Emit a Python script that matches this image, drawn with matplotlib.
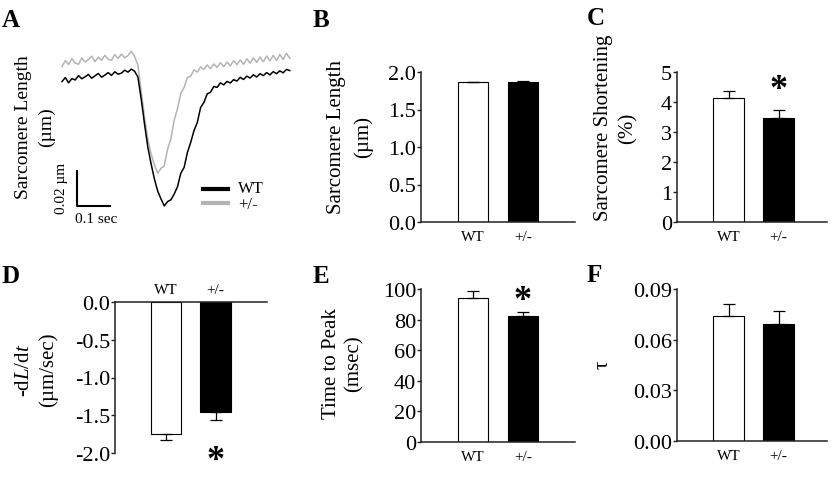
import matplotlib
matplotlib.use("Agg")
import matplotlib.pyplot as plt
from matplotlib.lines import Line2D

plt.rcParams['font.family'] = ['Liberation Serif', 'DejaVu Sans']
plt.rcParams['mathtext.fontset'] = 'custom'
plt.rcParams['mathtext.rm'] = 'Liberation Serif'
plt.rcParams['mathtext.it'] = 'Liberation Serif:italic'
plt.rcParams['axes.unicode_minus'] = False

W, H = 832, 485

# --- panel A: representative sarcomere length traces (change in nm vs time in ms)
time_ms = [0, 10, 20, 30, 40, 50, 60, 70, 80, 90,
           100, 110, 120, 130, 140, 150, 160, 170, 180, 190,
           200, 210, 220, 230, 240, 250, 260, 270, 280, 290,
           300, 310, 320, 330, 340, 350, 360, 370, 380, 390,
           400, 410, 420, 430, 440, 450, 460, 470, 480, 490,
           500, 510, 520, 530, 540, 550, 560, 570, 580, 590,
           600, 610, 620, 630, 640, 650, 660, 670, 680, 690]
wt_trace = [-1.5, 0.8, -2.2, 0.2, -0.6, 1.9, 0.1, 1.2, 2.6, 0.4,
            1.8, 3.1, 1.0, 2.2, 3.6, 2.0, 4.1, 2.7, 3.3, 5.0,
            3.9, 5.6, 4.4, 1.1, -11.4, -25.7, -38.8, -48.5, -57.1, -64.0,
            -68.5, -72.5, -70.0, -69.0, -65.7, -61.5, -53.8, -50.5, -42.0, -36.2,
            -29.5, -24.8, -16.3, -13.4, -8.5, -7.6, -4.3, -4.8, -2.2, -3.4,
            -1.4, -2.3, -0.4, -1.2, 0.9, -0.3, 1.6, 0.5, 2.4, 1.1,
            3.0, 1.9, 3.6, 2.3, 4.2, 3.0, 4.6, 3.5, 5.4, 4.8]
het_trace = [7.0, 10.5, 8.2, 11.6, 9.0, 8.4, 12.0, 9.6, 11.1, 13.0,
             9.9, 12.4, 10.6, 13.5, 11.2, 10.8, 13.9, 11.7, 14.2, 12.1,
             13.3, 15.8, 12.8, 8.0, -6.9, -21.7, -34.3, -42.8, -49.1, -53.8,
             -51.0, -49.6, -40.0, -34.2, -23.5, -16.9, -8.2, -4.8, 0.9, 1.5,
             5.2, 3.9, 6.9, 5.4, 8.0, 5.9, 8.5, 6.6, 9.3, 7.0,
             9.6, 7.5, 10.4, 8.1, 10.9, 8.4, 11.5, 9.0, 12.0, 9.4,
             12.4, 9.8, 13.1, 10.3, 13.4, 10.6, 14.0, 11.1, 14.6, 11.8]

# --- panels B-F: mean and SEM
groups = ['WT', '+/-']
sl_mean = [1.863, 1.871]
sl_err = [0.006, 0.006]
short_mean = [4.13, 3.47]
short_err = [0.24, 0.26]
dldt_mean = [-1.75, -1.46]
dldt_err = [0.08, 0.10]
ttp_mean = [94.3, 82.2]
ttp_err = [4.2, 3.0]
tau_mean = [0.0738, 0.0695]
tau_err = [0.0073, 0.0077]


def box(left, top, right, bottom):
    return [left / W, 1 - bottom / H, (right - left) / W, (bottom - top) / H]


def ftext(x, y, s, **kw):
    fig.text(x / W, 1 - y / H, s, **kw)


def bar_panel(ax, means, errs, ylim, yticks, fmt, xlim):
    x = [1, 2]
    ax.bar(x, means, width=0.61, color=['white', 'black'], edgecolor='black',
           linewidth=0.8, zorder=2)
    zeros = [0, 0]
    yerr = [zeros, errs] if ylim[1] > 0 else [errs, zeros]
    ax.errorbar(x, means, yerr=yerr, fmt='none', ecolor='black', elinewidth=0.9,
                capsize=4, capthick=0.9, zorder=3)
    ax.set_xlim(*xlim)
    ax.set_ylim(*ylim)
    ax.set_yticks(yticks)
    ax.set_yticklabels([fmt % v for v in yticks])
    ax.set_xticks(x)
    ax.set_xticklabels(groups)
    ax.spines['right'].set_visible(False)
    for s in ['left', 'bottom', 'top']:
        ax.spines[s].set_linewidth(1.1)
        ax.spines[s].set_color('#222222')
    ax.tick_params(axis='y', length=3, width=1.0, labelsize=16, pad=0.5, color='#222222')
    ax.tick_params(axis='x', length=0, labelsize=11, pad=6)
    ax.set_facecolor('none')


fig = plt.figure(figsize=(W / 100, H / 100), dpi=100)

# A
ax_a = fig.add_axes(box(55, 40, 295, 225))
ax_a.plot(time_ms, het_trace, color='#b4b4b4', lw=1.1)
ax_a.plot(time_ms, wt_trace, color='black', lw=1.1)
ax_a.plot([45.5, 45.5, 145.5], [-52.5, -72.5, -72.5], color='black', lw=1.5)
ax_a.set_xlim(-21.2, 706)
ax_a.set_ylim(-82.8, 22.8)
ax_a.axis('off')
fig.add_artist(Line2D([203 / W, 228 / W], [1 - 190 / H, 1 - 190 / H], color='black', lw=3))
fig.add_artist(Line2D([203 / W, 228 / W], [1 - 204 / H, 1 - 204 / H], color='#b4b4b4', lw=3))
ftext(238, 189, 'WT', fontsize=12, va='center')
ftext(238, 205, '+/-', fontsize=12, va='center')
ftext(61, 188, '0.02 µm', fontsize=11, rotation=90, ha='center', va='center')
ftext(96, 220, '0.1 sec', fontsize=11, ha='center', va='center')
ftext(35, 127, 'Sarcomere Length\n(µm)', fontsize=14, rotation=90, ha='center',
      va='center', multialignment='center', linespacing=1.4)

# B
ax_b = fig.add_axes(box(421, 73, 575, 223))
bar_panel(ax_b, sl_mean, sl_err, (0, 2.0), [0, 0.5, 1.0, 1.5, 2.0], '%.1f', (-0.04, 3.04))
ax_b.spines['top'].set_visible(False)
ftext(350, 137, 'Sarcomere Length\n(µm)', fontsize=15, rotation=90, ha='center',
      va='center', multialignment='center', linespacing=1.55)

# C
ax_c = fig.add_axes(box(677, 73, 827, 223))
bar_panel(ax_c, short_mean, short_err, (0, 5), [0, 1, 2, 3, 4, 5], '%d', (-0.03, 2.97))
ax_c.spines['top'].set_visible(False)
ax_c.text(2, 4.40, '*', fontsize=26, fontweight='bold', ha='center', va='center')
ftext(616, 128, 'Sarcomere Shortening\n(%)', fontsize=15, rotation=90, ha='center',
      va='center', multialignment='center', linespacing=1.4)

# D
ax_d = fig.add_axes(box(115, 303, 267, 454))
bar_panel(ax_d, dldt_mean, dldt_err, (-2.0, 0), [0, -0.5, -1.0, -1.5, -2.0], '%.1f', (-0.03, 3.04))
ax_d.spines['bottom'].set_visible(False)
ax_d.xaxis.tick_top()
ax_d.tick_params(axis='x', length=0, pad=4)
ax_d.text(2, -2.10, '*', fontsize=26, fontweight='bold', ha='center', va='center')
ftext(37, 370, '-d$L$/d$t$\n(µm/sec)', fontsize=15, rotation=90, ha='center',
      va='center', multialignment='center', linespacing=1.3)

# E
ax_e = fig.add_axes(box(421, 290, 575, 443))
bar_panel(ax_e, ttp_mean, ttp_err, (0, 100), [0, 20, 40, 60, 80, 100], '%d', (-0.04, 3.04))
ax_e.spines['top'].set_visible(False)
ax_e.text(2, 92.8, '*', fontsize=26, fontweight='bold', ha='center', va='center')
ftext(343, 364, 'Time to Peak\n(msec)', fontsize=15, rotation=90, ha='center',
      va='center', multialignment='center', linespacing=1.25)

# F
ax_f = fig.add_axes(box(677, 290, 827, 442))
bar_panel(ax_f, tau_mean, tau_err, (0, 0.09), [0, 0.03, 0.06, 0.09], '%.2f', (-0.03, 2.97))
ax_f.spines['top'].set_visible(False)
ftext(603, 365, 'τ', fontsize=15, rotation=90, ha='center', va='center')

# panel letters
for letter, x, y in [('A', 2, 9), ('B', 313, 9), ('C', 587, 7),
                     ('D', 2, 265), ('E', 313, 265), ('F', 587, 264)]:
    ftext(x, y, letter, fontsize=18, fontweight='bold', va='top')

fig.savefig('out.png', dpi=100)
plt.close()
